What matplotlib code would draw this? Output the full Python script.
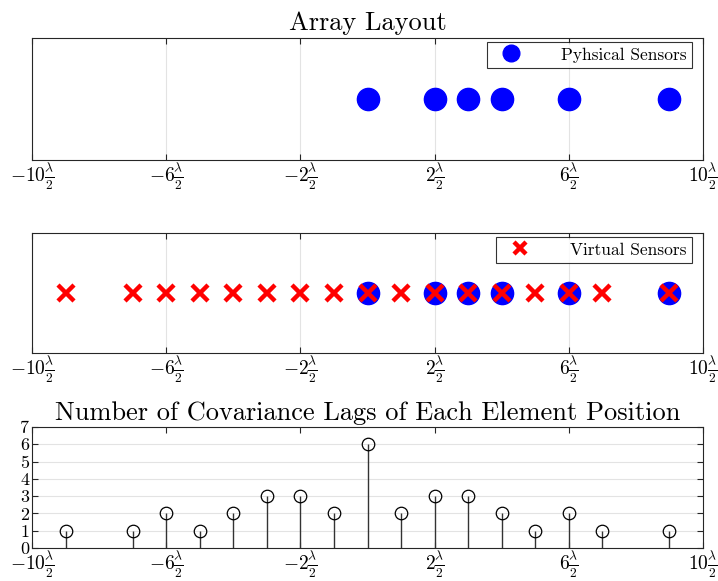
import matplotlib
matplotlib.use("Agg")
import matplotlib.pyplot as plt
import numpy as np

plt.rcParams['mathtext.fontset'] = 'cm'
plt.rcParams['font.family'] = ['cmr10', 'DejaVu Serif']
plt.rcParams['axes.formatter.use_mathtext'] = True

physical = [0, 2, 3, 4, 6, 9]
virtual = [-9, -7, -6, -5, -4, -3, -2, -1, 0, 1, 2, 3, 4, 5, 6, 7, 9]
lag_counts = [1, 1, 2, 1, 2, 3, 3, 2, 6, 2, 3, 3, 2, 1, 2, 1, 1]
xticks = [-10, -6, -2, 2, 6, 10]
xticklabels = [r'$-10\frac{\lambda}{2}$', r'$-6\frac{\lambda}{2}$', r'$-2\frac{\lambda}{2}$',
               r'$2\frac{\lambda}{2}$', r'$6\frac{\lambda}{2}$', r'$10\frac{\lambda}{2}$']

fig = plt.figure(figsize=(7.18, 5.81), dpi=100)
W, H = 718, 581
def rect(l, t, r, b):
    return [l / W, 1 - b / H, (r - l) / W, (b - t) / H]

ax1 = fig.add_axes(rect(32, 38, 703, 160))
ax2 = fig.add_axes(rect(32, 233, 703, 353))
ax3 = fig.add_axes(rect(32, 427, 703, 548))

def style(ax):
    ax.set_xlim(-10, 10)
    ax.set_xticks(xticks)
    ax.set_xticklabels(xticklabels, fontsize=14)
    ax.tick_params(axis='both', direction='in', top=True, right=True, length=4, width=0.8, color='#262626', pad=1)
    for s in ax.spines.values():
        s.set_color('#262626')
        s.set_linewidth(0.8)

def legend(ax):
    # legend box right edge ~692px, top ~42px relative to axes
    pos = ax.get_position()
    x = (692 / W - pos.x0) / pos.width
    top_px = 1 - pos.y1  # figure fraction from top
    y = 1 - (4 / H) / pos.height
    leg = ax.legend(loc='upper right', bbox_to_anchor=(x, y), fontsize=12.5, frameon=True, fancybox=False,
                    edgecolor='black', borderaxespad=0.0, handletextpad=1.8, markerscale=0.75,
                    borderpad=0.3, handlelength=2.2)
    leg.get_frame().set_linewidth(0.8)
    return leg

for ax in (ax1, ax2):
    style(ax)
    ax.set_ylim(-1, 1)
    ax.set_yticks([])
    ax.grid(axis='x', color='#e3e3e3', linewidth=0.8)
    ax.set_axisbelow(True)

ax1.plot(physical, np.zeros(len(physical)), 'o', color='blue', markersize=16, linestyle='none', label='Pyhsical Sensors')
ax1.set_title('Array Layout', fontsize=19, pad=6)
legend(ax1)

ax2.plot(physical, np.zeros(len(physical)), 'o', color='blue', markersize=16, linestyle='none')
ax2.plot(virtual, np.zeros(len(virtual)), 'x', color='red', markersize=11, markeredgewidth=3.2, linestyle='none', label='Virtual Sensors')
legend(ax2)

style(ax3)
ax3.set_ylim(0, 7)
ax3.set_yticks(range(8))
ax3.set_yticklabels([str(i) for i in range(8)], fontsize=13)
ax3.tick_params(axis='y', pad=2)
ax3.grid(axis='y', color='#e3e3e3', linewidth=0.8)
ax3.set_axisbelow(True)
ml, sl, bl = ax3.stem(virtual, lag_counts, basefmt=' ')
plt.setp(sl, color='#333333', linewidth=1.0)
plt.setp(ml, marker='o', markerfacecolor='none', markeredgecolor='black', markersize=9, markeredgewidth=0.9)
ax3.set_title('Number of Covariance Lags of Each Element Position', fontsize=19, pad=5)

fig.savefig('out.png', dpi=100)
